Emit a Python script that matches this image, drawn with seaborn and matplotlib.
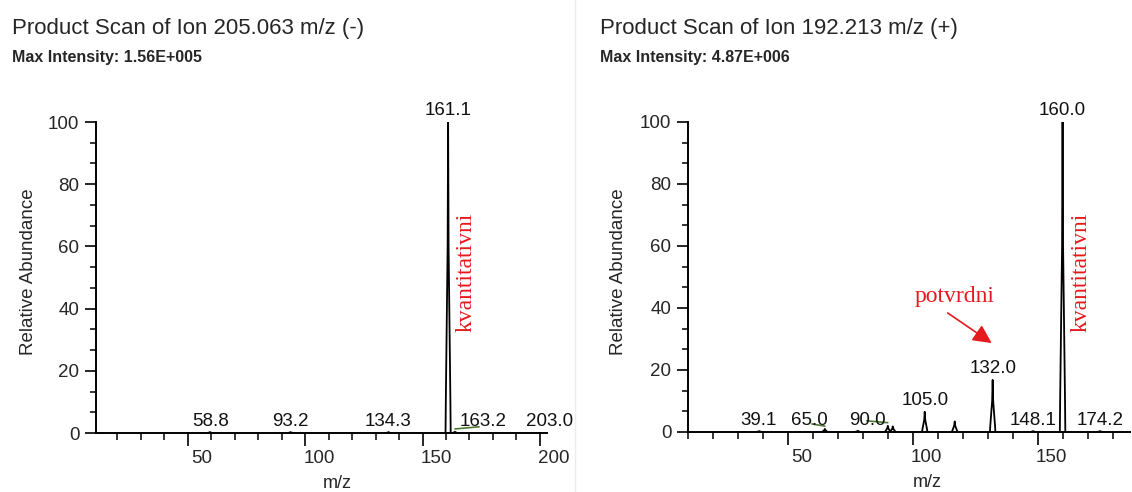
import numpy as np
import pandas as pd
import matplotlib
matplotlib.use("Agg")
import matplotlib.pyplot as plt
import seaborn as sns
from matplotlib.transforms import ScaledTranslation
from matplotlib.lines import Line2D
from matplotlib.ticker import FixedLocator, MultipleLocator

# ---------------- data ----------------
left_title = "Product Scan of Ion 205.063 m/z (-)"
left_max = "Max Intensity: 1.56E+005"
right_title = "Product Scan of Ion 192.213 m/z (+)"
right_max = "Max Intensity: 4.87E+006"

left_peak_mz = [59.5, 93.8, 135.5, 160.9, 163.8, 204.0]
left_peak_int = [0.3, 0.3, 0.3, 100.0, 0.4, 0.3]
left_labels = ["58.8", "93.2", "134.3", "161.1", "163.2", "203.0"]
left_label_mz = [59.9, 93.9, 135.5, 160.9, 176.0, 204.2]
left_label_y = [0, 0, 0, 100.0, 0, 0]
left_links = [(163.8, 1.3, 174.1, 2.0)]

right_peak_mz = [38.5, 64.8, 78.0, 90.0, 92.0, 104.8, 116.8, 132.0, 148.2, 160.0, 175.0]
right_peak_int = [0.3, 1.0, 0.4, 2.0, 1.8, 6.5, 3.4, 16.8, 0.3, 100.0, 0.3]
right_labels = ["39.1", "65.0", "90.0", "105.0", "132.0", "148.1", "160.0", "174.2"]
right_label_mz = [38.2, 58.6, 81.8, 104.8, 132.0, 148.2, 160.0, 175.2]
right_label_y = [0, 0, 0, 6.5, 16.8, 0, 100.0, 0]
right_links = [(59.6, 2.6, 64.8, 1.9), (81.6, 3.6, 90.0, 3.0)]

left_quant = ("kvantitativni", 168.4, 51.8)
right_quant = ("kvantitativni", 167.6, 51.6)
right_conf = ("potvrdni", 116.8, 43.7)
right_arrow = (114.0, 38.4, 131.6, 28.7)

x_major = [50, 100, 150, 200]
y_major = [0, 20, 40, 60, 80, 100]

# ---------------- style ----------------
sns.set_style("white")
plt.rcParams["font.family"] = ["Liberation Sans", "DejaVu Sans"]
RED = "#e5191e"
GREEN = "#4d7a35"

# peak drawing template (shape only)
shape_dx = [-1.1, -0.95, -0.2, 0.0, 0.2, 0.95, 1.1]
shape_fr = [0.0, 0.12, 0.6, 1.0, 0.6, 0.12, 0.0]


def peak_frame(mz, inten):
    rows = []
    for i, (m, h) in enumerate(zip(mz, inten)):
        for k, (dx, fr) in enumerate(zip(shape_dx, shape_fr)):
            rows.append({"peak": i, "order": k, "mz": m + dx, "intensity": h * fr})
    return pd.DataFrame(rows)


fig = plt.figure(figsize=(11.32, 4.92), dpi=100)
W, H = 1132, 492

ax_l = fig.add_axes([96 / W, (H - 433) / H, 451 / W, 311 / H])
ax_r = fig.add_axes([688 / W, (H - 432) / H, 442 / W, 310 / H])

panels = [
    (ax_l, (11, 203), left_peak_mz, left_peak_int, left_labels, left_label_mz, left_label_y, left_links),
    (ax_r, (10, 187), right_peak_mz, right_peak_int, right_labels, right_label_mz, right_label_y, right_links),
]

for ax, xlim, pmz, pint, labs, lmz, ly, links in panels:
    df = peak_frame(pmz, pint)
    sns.lineplot(data=df, x="mz", y="intensity", units="peak", estimator=None,
                 sort=False, color="black", lw=1.3, ax=ax, legend=False)
    ax.set_xlim(*xlim)
    ax.set_ylim(0, 100)
    for side in ("top", "right"):
        ax.spines[side].set_visible(False)
    for side in ("left", "bottom"):
        ax.spines[side].set_linewidth(1.4)
        ax.spines[side].set_color("black")
    ax.xaxis.set_major_locator(FixedLocator(x_major))
    ax.xaxis.set_minor_locator(MultipleLocator(10))
    ax.yaxis.set_major_locator(FixedLocator(y_major))
    ax.yaxis.set_minor_locator(MultipleLocator(20 / 3))
    ax.tick_params(axis="x", which="major", direction="out", length=9, width=1.4,
                   labelsize=13.5, pad=3, bottom=True)
    ax.tick_params(axis="x", which="minor", direction="out", length=5, width=1.3, bottom=True)
    ax.tick_params(axis="y", which="major", direction="out", length=8, width=1.4,
                   labelsize=13.5, pad=4, left=True)
    ax.tick_params(axis="y", which="minor", direction="out", length=4, width=1.3, left=True)
    ax.set_xlabel("m/z", fontsize=13)
    ax.set_ylabel("Relative Abundance", fontsize=13.5)
    for t in ax.get_xticklabels():
        t.set_transform(t.get_transform() + ScaledTranslation(14 / 100, 0, fig.dpi_scale_trans))
    # peak annotations
    for txt, x, y in zip(labs, lmz, ly):
        ax.annotate(txt, xy=(x, y), xytext=(0, 5), textcoords="offset points",
                    ha="center", va="baseline", fontsize=13.5, color="#111111",
                    annotation_clip=False)
    for x0, y0, x1, y1 in links:
        ax.plot([x0, x1], [y0, y1], color=GREEN, lw=1.2, solid_capstyle="round")

# axis label placement
ax_l.xaxis.set_label_coords(0.5 + 16 / 451, -42 / 311)
ax_r.xaxis.set_label_coords(0.5 + 18 / 442, -42 / 310)
ax_l.yaxis.set_label_coords(-59 / 451, 0.518)
ax_r.yaxis.set_label_coords(-61 / 442, 0.518)

# red annotations
for ax, (txt, x, y) in ((ax_l, left_quant), (ax_r, right_quant)):
    ax.text(x, y, txt, rotation=90, ha="center", va="center", color=RED,
            fontsize=17, family=["Liberation Serif", "DejaVu Serif"])
txt, x, y = right_conf
ax_r.text(x, y, txt, ha="center", va="center", color=RED, fontsize=17,
          family=["Liberation Serif", "DejaVu Serif"])
x0, y0, x1, y1 = right_arrow
ax_r.annotate("", xy=(x1, y1), xytext=(x0, y0),
              arrowprops=dict(arrowstyle="-|>,head_length=0.8,head_width=0.4",
                              mutation_scale=14, color=RED, lw=1.2,
                              shrinkA=0, shrinkB=0))

# titles
fig.text(12 / W, 1 - 34 / H, left_title, fontsize=16, ha="left", va="baseline")
fig.text(12 / W, 1 - 62 / H, left_max, fontsize=11.5, fontweight="bold", ha="left", va="baseline")
fig.text(600 / W, 1 - 34 / H, right_title, fontsize=16, ha="left", va="baseline")
fig.text(600 / W, 1 - 62 / H, right_max, fontsize=11.5, fontweight="bold", ha="left", va="baseline")

# faint panel separator
fig.add_artist(Line2D([575 / W, 575 / W], [0, 1], transform=fig.transFigure,
                      color="#ececec", lw=1.0))

fig.savefig("out.png", dpi=100, facecolor="white")
